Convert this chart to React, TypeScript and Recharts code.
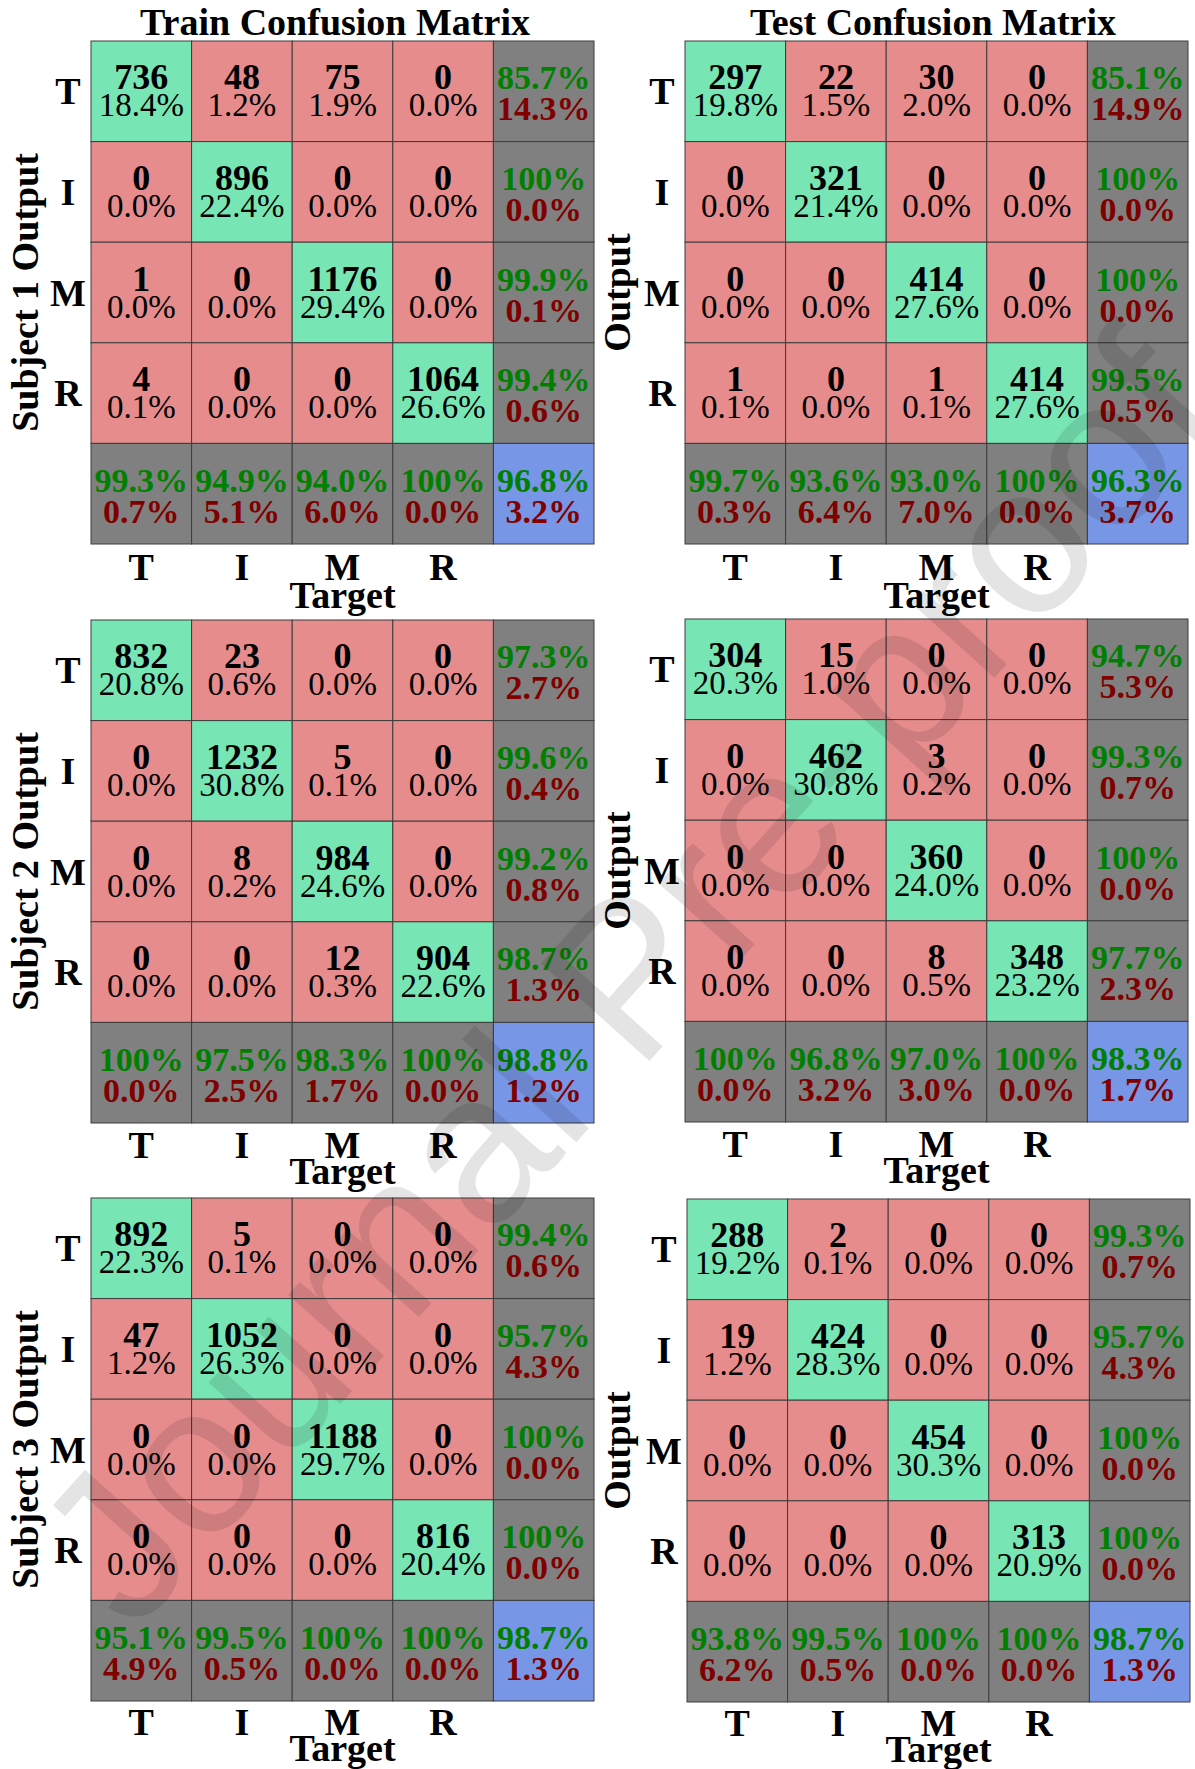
import { ScatterChart, Scatter, XAxis, YAxis, ReferenceLine } from 'recharts';

const classes = ['T', 'I', 'M', 'R'];

// Subject 1
const s1TrainCounts = [[736, 48, 75, 0], [0, 896, 0, 0], [1, 0, 1176, 0], [4, 0, 0, 1064]];
const s1TrainPct = [[18.4, 1.2, 1.9, 0.0], [0.0, 22.4, 0.0, 0.0], [0.0, 0.0, 29.4, 0.0], [0.1, 0.0, 0.0, 26.6]];
const s1TrainRowOk = [85.7, 100, 99.9, 99.4];
const s1TrainRowErr = [14.3, 0.0, 0.1, 0.6];
const s1TrainColOk = [99.3, 94.9, 94.0, 100];
const s1TrainColErr = [0.7, 5.1, 6.0, 0.0];
const s1TrainTotal = [96.8, 3.2];

const s1TestCounts = [[297, 22, 30, 0], [0, 321, 0, 0], [0, 0, 414, 0], [1, 0, 1, 414]];
const s1TestPct = [[19.8, 1.5, 2.0, 0.0], [0.0, 21.4, 0.0, 0.0], [0.0, 0.0, 27.6, 0.0], [0.1, 0.0, 0.1, 27.6]];
const s1TestRowOk = [85.1, 100, 100, 99.5];
const s1TestRowErr = [14.9, 0.0, 0.0, 0.5];
const s1TestColOk = [99.7, 93.6, 93.0, 100];
const s1TestColErr = [0.3, 6.4, 7.0, 0.0];
const s1TestTotal = [96.3, 3.7];

// Subject 2
const s2TrainCounts = [[832, 23, 0, 0], [0, 1232, 5, 0], [0, 8, 984, 0], [0, 0, 12, 904]];
const s2TrainPct = [[20.8, 0.6, 0.0, 0.0], [0.0, 30.8, 0.1, 0.0], [0.0, 0.2, 24.6, 0.0], [0.0, 0.0, 0.3, 22.6]];
const s2TrainRowOk = [97.3, 99.6, 99.2, 98.7];
const s2TrainRowErr = [2.7, 0.4, 0.8, 1.3];
const s2TrainColOk = [100, 97.5, 98.3, 100];
const s2TrainColErr = [0.0, 2.5, 1.7, 0.0];
const s2TrainTotal = [98.8, 1.2];

const s2TestCounts = [[304, 15, 0, 0], [0, 462, 3, 0], [0, 0, 360, 0], [0, 0, 8, 348]];
const s2TestPct = [[20.3, 1.0, 0.0, 0.0], [0.0, 30.8, 0.2, 0.0], [0.0, 0.0, 24.0, 0.0], [0.0, 0.0, 0.5, 23.2]];
const s2TestRowOk = [94.7, 99.3, 100, 97.7];
const s2TestRowErr = [5.3, 0.7, 0.0, 2.3];
const s2TestColOk = [100, 96.8, 97.0, 100];
const s2TestColErr = [0.0, 3.2, 3.0, 0.0];
const s2TestTotal = [98.3, 1.7];

// Subject 3
const s3TrainCounts = [[892, 5, 0, 0], [47, 1052, 0, 0], [0, 0, 1188, 0], [0, 0, 0, 816]];
const s3TrainPct = [[22.3, 0.1, 0.0, 0.0], [1.2, 26.3, 0.0, 0.0], [0.0, 0.0, 29.7, 0.0], [0.0, 0.0, 0.0, 20.4]];
const s3TrainRowOk = [99.4, 95.7, 100, 100];
const s3TrainRowErr = [0.6, 4.3, 0.0, 0.0];
const s3TrainColOk = [95.1, 99.5, 100, 100];
const s3TrainColErr = [4.9, 0.5, 0.0, 0.0];
const s3TrainTotal = [98.7, 1.3];

const s3TestCounts = [[288, 2, 0, 0], [19, 424, 0, 0], [0, 0, 454, 0], [0, 0, 0, 313]];
const s3TestPct = [[19.2, 0.1, 0.0, 0.0], [1.2, 28.3, 0.0, 0.0], [0.0, 0.0, 30.3, 0.0], [0.0, 0.0, 0.0, 20.9]];
const s3TestRowOk = [99.3, 95.7, 100, 100];
const s3TestRowErr = [0.7, 4.3, 0.0, 0.0];
const s3TestColOk = [93.8, 99.5, 100, 100];
const s3TestColErr = [6.2, 0.5, 0.0, 0.0];
const s3TestTotal = [98.7, 1.3];

const GREEN = '#78e6b4';
const RED = '#e68c8c';
const GRAY = '#808080';
const BLUE = '#7896e6';
const SERIF = '"Liberation Serif", "Times New Roman", serif';

const PLOT = 503;
const CELL = PLOT / 5;
const XH = 72;

const okFmt = (v: number) => (v === 100 ? '100%' : v.toFixed(1) + '%');
const errFmt = (v: number) => v.toFixed(1) + '%';

function buildCells(counts: number[][], pct: number[][], rowOk: number[], rowErr: number[],
  colOk: number[], colErr: number[], total: number[]) {
  const pts: any[] = [];
  for (let r = 0; r < 5; r++) {
    for (let c = 0; c < 5; c++) {
      const p: any = { x: c + 0.5, y: 4.5 - r };
      if (r < 4 && c < 4) {
        p.kind = 'main';
        p.fill = r === c ? GREEN : RED;
        p.top = String(counts[r][c]);
        p.bottom = pct[r][c].toFixed(1) + '%';
      } else if (r < 4) {
        p.kind = 'sum'; p.fill = GRAY; p.top = okFmt(rowOk[r]); p.bottom = errFmt(rowErr[r]);
      } else if (c < 4) {
        p.kind = 'sum'; p.fill = GRAY; p.top = okFmt(colOk[c]); p.bottom = errFmt(colErr[c]);
      } else {
        p.kind = 'sum'; p.fill = BLUE; p.top = okFmt(total[0]); p.bottom = errFmt(total[1]);
      }
      pts.push(p);
    }
  }
  return pts;
}

const CellShape = (props: any) => {
  const { cx, cy, payload } = props;
  const h = CELL / 2;
  const main = payload.kind === 'main';
  return (
    <g>
      <rect x={cx - h} y={cy - h} width={CELL} height={CELL} fill={payload.fill} stroke="#3c3c3c" strokeWidth={1} />
      <text x={cx} y={cy - 2} textAnchor="middle" fontFamily={SERIF} fontWeight="bold"
        fontSize={main ? 36 : 34} fill={main ? '#000' : '#008000'}>{payload.top}</text>
      <text x={cx} y={main ? cy + 25 : cy + 29} textAnchor="middle" fontFamily={SERIF} fontWeight={main ? 'normal' : 'bold'}
        fontSize={main ? 33 : 34} fill={main ? '#000' : '#800000'}>{payload.bottom}</text>
    </g>
  );
};

const XTick = (props: any) => {
  const { x, y, index, lab } = props;
  return (
    <text x={x} y={y + lab} textAnchor="middle" fontFamily={SERIF} fontWeight="bold" fontSize={38} fill="#000">
      {classes[index]}
    </text>
  );
};

const YTick = (props: any) => {
  const { x, y, payload } = props;
  const idx = 4 - Math.floor(payload.value);
  return (
    <text x={x - 23} y={y + 13} textAnchor="middle" fontFamily={SERIF} fontWeight="bold" fontSize={38} fill="#000">
      {classes[idx]}
    </text>
  );
};

const TargetLabel = (props: any) => {
  const vb = props.viewBox;
  return (
    <text x={vb.x + vb.width / 2} y={vb.y + props.off} textAnchor="middle" fontFamily={SERIF} fontWeight="bold" fontSize={38} fill="#000">
      Target
    </text>
  );
};

const OutputLabel = (props: any) => {
  const vb = props.viewBox;
  const x = props.bx;
  const y = vb.y + vb.height / 2;
  return (
    <text x={x} y={y} transform={`rotate(-90, ${x}, ${y})`} textAnchor="middle" fontFamily={SERIF}
      fontWeight="bold" fontSize={38} fill="#000">
      {props.text}
    </text>
  );
};

const panels = [
  { left: 0, yw: 91, top: 41, lx: 38, lab: 36, tgt: 64, label: 'Subject 1 Output', data: buildCells(s1TrainCounts, s1TrainPct, s1TrainRowOk, s1TrainRowErr, s1TrainColOk, s1TrainColErr, s1TrainTotal) },
  { left: 560, yw: 125, top: 41, lx: 70, lab: 36, tgt: 64, label: 'Output', data: buildCells(s1TestCounts, s1TestPct, s1TestRowOk, s1TestRowErr, s1TestColOk, s1TestColErr, s1TestTotal) },
  { left: 0, yw: 91, top: 620, lx: 38, lab: 35, tgt: 61, label: 'Subject 2 Output', data: buildCells(s2TrainCounts, s2TrainPct, s2TrainRowOk, s2TrainRowErr, s2TrainColOk, s2TrainColErr, s2TrainTotal) },
  { left: 560, yw: 125, top: 619, lx: 70, lab: 35, tgt: 61, label: 'Output', data: buildCells(s2TestCounts, s2TestPct, s2TestRowOk, s2TestRowErr, s2TestColOk, s2TestColErr, s2TestTotal) },
  { left: 0, yw: 91, top: 1198, lx: 38, lab: 34, tgt: 60, label: 'Subject 3 Output', data: buildCells(s3TrainCounts, s3TrainPct, s3TrainRowOk, s3TrainRowErr, s3TrainColOk, s3TrainColErr, s3TrainTotal) },
  { left: 560, yw: 127, top: 1199, lx: 70, lab: 34, tgt: 60, label: 'Output', data: buildCells(s3TestCounts, s3TestPct, s3TestRowOk, s3TestRowErr, s3TestColOk, s3TestColErr, s3TestTotal) },
];

function Panel({ p }: { p: any }) {
  const w = p.yw + PLOT + 6;
  const h = 41 + PLOT + XH;
  return (
    <div style={{ position: 'absolute', left: p.left, top: p.top - 41 }}>
      <ScatterChart width={w} height={h} margin={{ top: 41, right: 6, bottom: 0, left: 0 }}>
        <XAxis type="number" dataKey="x" domain={[0, 5]} ticks={[0.5, 1.5, 2.5, 3.5]} interval={0}
          tick={<XTick lab={p.lab} />} tickLine={false} axisLine={false} tickSize={0} tickMargin={0} height={XH}
          label={<TargetLabel off={p.tgt} />} />
        <YAxis type="number" dataKey="y" domain={[0, 5]} ticks={[1.5, 2.5, 3.5, 4.5]} interval={0}
          tick={<YTick />} tickLine={false} axisLine={false} tickSize={0} tickMargin={0} width={p.yw}
          label={<OutputLabel text={p.label} bx={p.lx} />} />
        <Scatter data={p.data} shape={CellShape} isAnimationActive={false} />
        <ReferenceLine x={4} stroke="#505050" strokeWidth={3} ifOverflow="visible" />
        <ReferenceLine y={1} stroke="#505050" strokeWidth={3} ifOverflow="visible" />
      </ScatterChart>
    </div>
  );
}

export default function App() {
  return (
    <div style={{ position: 'absolute', left: 0, top: 0, width: 1195, height: 1769, background: '#fff', overflow: 'hidden' }}>
      {panels.map((p, i) => <Panel key={i} p={p} />)}
      <svg width={1195} height={1769} style={{ position: 'absolute', left: 0, top: 0, pointerEvents: 'none' }}>
        <text x={335} y={35} textAnchor="middle" fontFamily={SERIF} fontWeight="bold" fontSize={38}>Train Confusion Matrix</text>
        <text x={933} y={35} textAnchor="middle" fontFamily={SERIF} fontWeight="bold" fontSize={38}>Test Confusion Matrix</text>
        <text x={629} y={979} dy={70} transform="rotate(-48, 629, 979)" textAnchor="middle"
          fontFamily='"Liberation Sans", Arial, sans-serif' fontSize={212} fill="#000" opacity={0.1}>
          Journal Pre-proof
        </text>
      </svg>
    </div>
  );
}
